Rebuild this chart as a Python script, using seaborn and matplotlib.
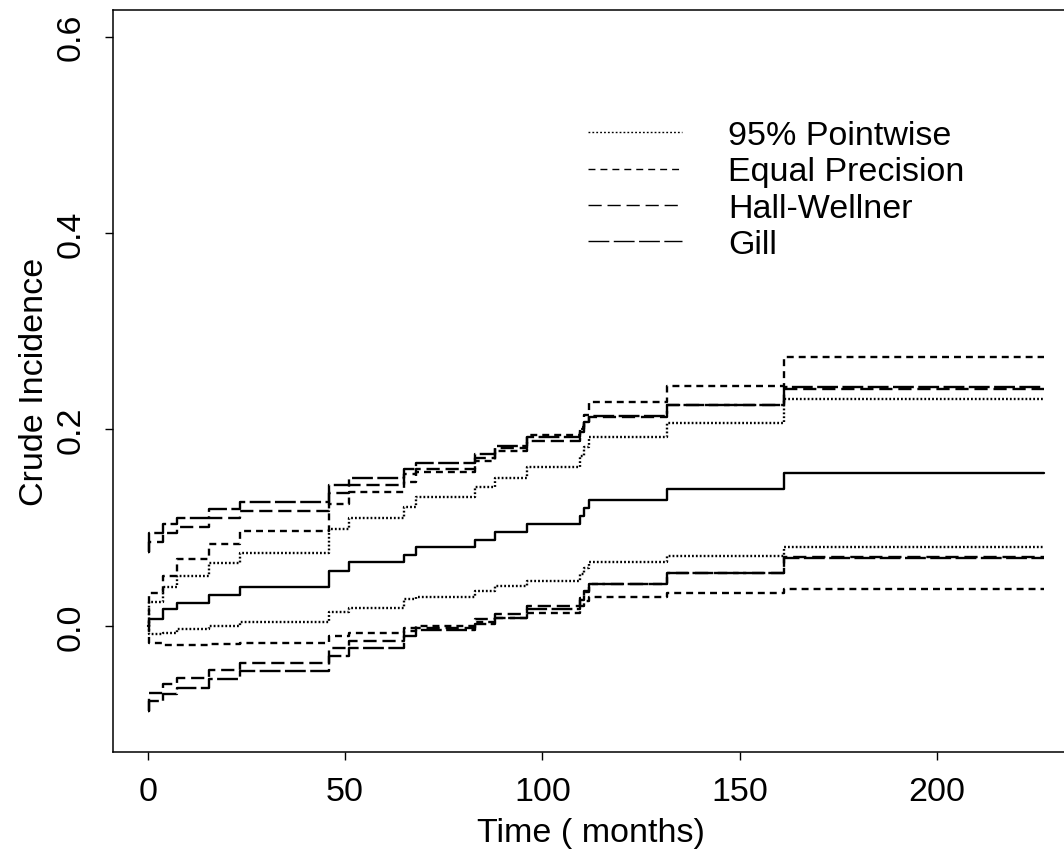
import matplotlib
matplotlib.use("Agg")
import matplotlib.pyplot as plt
from matplotlib.lines import Line2D
import pandas as pd
import seaborn as sns

# Event times (months) where the step curves change; follow-up ends at t_end
times = [0, 0.3, 4, 7.3, 15.6, 23.4, 46, 51, 65, 68, 83, 88, 96,
         109.6, 110.5, 111.8, 131.5, 161.3]
t_end = 227

# Crude incidence estimate
estimate = [0.0, 0.0075, 0.017, 0.023, 0.032, 0.040, 0.056, 0.0646, 0.072,
            0.080, 0.088, 0.096, 0.104, 0.112, 0.120, 0.128, 0.139, 0.156]

# 95% pointwise confidence limits
pointwise_upper = [0.0, 0.024, 0.040, 0.051, 0.0645, 0.0747, 0.0985, 0.110,
                   0.121, 0.131, 0.1416, 0.151, 0.1613, 0.173, 0.182, 0.192,
                   0.207, 0.231]
pointwise_lower = [0.0, -0.0085, -0.0068, -0.003, 0.0, 0.004, 0.0143, 0.0187,
                   0.027, 0.029, 0.036, 0.0407, 0.046, 0.053, 0.059, 0.0646,
                   0.0714, 0.0805]

# Equal precision bands
ep_upper = [0.0, 0.034, 0.051, 0.068, 0.083, 0.097, 0.124, 0.136, 0.147,
            0.157, 0.168, 0.178, 0.194, 0.203, 0.215, 0.2275, 0.2445, 0.2734]
ep_lower = [0.0, -0.017, -0.019, -0.019, -0.018, -0.017, -0.010, -0.0068,
            -0.0017, 0.0, 0.004, 0.008, 0.0136, 0.020, 0.025, 0.029, 0.0333,
            0.0373]

# Hall-Wellner bands
hw_upper = [0.075, 0.085, 0.095, 0.101, 0.110, 0.117, 0.135, 0.143, 0.155,
            0.160, 0.171, 0.181, 0.188, 0.197, 0.206, 0.213, 0.2248, 0.241]
hw_lower = [-0.0866, -0.0679, -0.0594, -0.0526, -0.0448, -0.0374, -0.0221,
            -0.0153, -0.005, -0.0017, 0.0068, 0.0119, 0.020, 0.028, 0.036,
            0.0425, 0.054, 0.0705]

# Gill bands
gill_upper = [0.075, 0.0951, 0.1036, 0.110, 0.119, 0.126, 0.143, 0.151, 0.160,
              0.166, 0.175, 0.183, 0.192, 0.200, 0.208, 0.214, 0.2248, 0.243]
gill_lower = [-0.0866, -0.0764, -0.0696, -0.0628, -0.0543, -0.0458, -0.0306,
              -0.022, -0.010, -0.004, 0.002, 0.0085, 0.017, 0.026, 0.035,
              0.0425, 0.0537, 0.0695]

legend_labels = ["95% Pointwise", "Equal Precision", "Hall-Wellner", "Gill"]

curves = [
    ("estimate", "Estimate", estimate),
    ("pw_up", "95% Pointwise", pointwise_upper),
    ("pw_lo", "95% Pointwise", pointwise_lower),
    ("ep_up", "Equal Precision", ep_upper),
    ("ep_lo", "Equal Precision", ep_lower),
    ("hw_up", "Hall-Wellner", hw_upper),
    ("hw_lo", "Hall-Wellner", hw_lower),
    ("gill_up", "Gill", gill_upper),
    ("gill_lo", "Gill", gill_lower),
]

rows = []
for name, method, vals in curves:
    xs = list(times) + [t_end]
    ys = list(vals) + [vals[-1]]
    for x, y in zip(xs, ys):
        rows.append({"time": x, "value": y, "curve": name, "method": method})
df = pd.DataFrame(rows)

# dash patterns in points (not scaled by line width)
dash_map = {
    "Estimate": "",
    "95% Pointwise": (1.3, 1.5),
    "Equal Precision": (5.0, 3.6),
    "Hall-Wellner": (9.5, 4.2),
    "Gill": (15.0, 3.2),
}

sns.set_style("ticks")
plt.rcParams["font.family"] = ["Liberation Sans", "DejaVu Sans"]
plt.rcParams["lines.scale_dashes"] = False
plt.rcParams["text.color"] = "black"
plt.rcParams["axes.labelcolor"] = "black"

W, H = 1064, 853
fig = plt.figure(figsize=(W / 100, H / 100), dpi=100)
ax_left, ax_right, ax_top, ax_bottom = 112.7, 1070.0, 11.0, 752.7
ax = fig.add_axes([ax_left / W, 1 - ax_bottom / H,
                   (ax_right - ax_left) / W, (ax_bottom - ax_top) / H])

sns.lineplot(data=df, x="time", y="value", units="curve", style="method",
             style_order=["Estimate"] + legend_labels, dashes=dash_map,
             estimator=None, sort=False, color="black", linewidth=1.7,
             drawstyle="steps-post", legend=False, ax=ax)

ax.set_xlim(-8.87, 233.7)
ax.set_ylim(-0.128, 0.627)
ax.set_xticks([0, 50, 100, 150, 200])
ax.set_xticklabels(["0", "50", "100", "150", "200"])
ax.set_yticks([0.0, 0.2, 0.4, 0.6])
ax.set_yticklabels(["0.0", "0.2", "0.4", "0.6"], rotation=90, va="center")

fs = 24.5
fs_px = fs * 100 / 72
ax.tick_params(axis="both", direction="out", length=5.8, width=1.0,
               labelsize=fs, colors="black")
ax.tick_params(axis="x", pad=12.0)
ax.tick_params(axis="y", pad=13.0)
for s in ax.spines.values():
    s.set_linewidth(1.1)
    s.set_color("black")

ax.set_xlabel("Time ( months)", fontsize=fs, labelpad=7)
ax.set_ylabel("Crude Incidence", fontsize=fs, labelpad=4)

handles = [Line2D([], [], color="black", linewidth=1.0,
                  dashes=dash_map[m] if dash_map[m] else (None, None))
           for m in legend_labels]
ax.legend(handles, legend_labels, frameon=False, fontsize=fs,
          loc="upper left", bbox_to_anchor=(588 / W, 1 - 121 / H),
          bbox_transform=fig.transFigure, borderpad=0, borderaxespad=0,
          handlelength=94 / fs_px, handletextpad=46 / fs_px,
          labelspacing=0.16)

fig.savefig("out.png", dpi=100, facecolor="white")
